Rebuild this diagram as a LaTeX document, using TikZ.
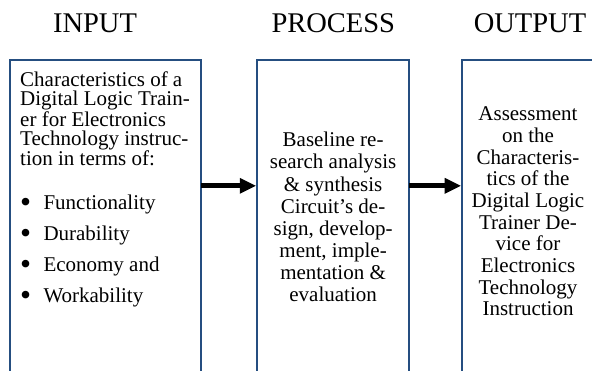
\documentclass[tikz,border=0pt]{standalone}
\usepackage{fontspec}
\setmainfont{Liberation Serif}
\usetikzlibrary{arrows.meta, positioning}
\definecolor{boxblue}{RGB}{37,78,128}
\newcommand{\listdot}{\makebox[23.3pt][l]{\raisebox{-2.3pt}{\scalebox{1.5}{\textbullet}}}}

\begin{document}
\begin{tikzpicture}[x=1pt, y=1pt,
    box/.style={draw=boxblue, line width=2pt, inner sep=0pt, outer sep=0pt,
        anchor=north west, minimum height=318pt},
    boxtext/.style={inner sep=0pt, align=center, font=\fontsize{21}{#1}\selectfont},
    heading/.style={font=\fontsize{28.5}{30}\selectfont, anchor=base, inner sep=0pt},
    flow/.style={line width=5pt, shorten >=1pt,
        -{Triangle[length=16pt, width=16pt, line width=0pt]}}]
    %% page
    \useasboundingbox (0,0) rectangle (592,371);
    \clip (0,0) rectangle (592,371);

    %% headings
    \node[heading] (hin) at (95,338.7) {INPUT};
    \node[heading] (hproc) at (333.3,338.7) {PROCESS};
    \node[heading] (hout) at (530,338.7) {OUTPUT};

    %% boxes
    \node[box, minimum width=191pt] (inbox) at (10,311) {};
    \node[box, minimum width=152.6pt] (procbox) at (256.8,311) {};
    \node[box, minimum width=132.6pt] (outbox) at (461.7,311) {};

    % text of the boxes
    \node[below right=11.5pt and 10pt of inbox.north west, inner sep=0pt, align=left,
          font=\fontsize{21}{19.3}\selectfont] (intext)
        {Characteristics of a\\ Digital Logic Train-\\ er for Electronics\\
         Technology instruc-\\ tion in terms of:\\[24.8pt]
         \listdot Functionality\\[11.7pt]
         \listdot Durability\\[11.7pt]
         \listdot Economy and\\[11.7pt]
         \listdot Workability};
    \node[boxtext=22.1] (proctext) at ([yshift=2pt]procbox.center)
        {Baseline re-\\ search analysis\\ \& synthesis\\ Circuit’s de-\\
         sign, develop-\\ ment, imple-\\ mentation \&\\ evaluation};
    \node[boxtext=21.7] (outtext) at ([yshift=7.5pt]outbox.center)
        {Assessment\\ on the\\ Characteris-\\ tics of the\\ Digital Logic\\
         Trainer De-\\ vice for\\ Electronics\\ Technology\\ Instruction};

    %% arrows
    \coordinate (arrowrow) at (0,185.2);
    \draw[flow] (inbox.east |- arrowrow) -- (procbox.west |- arrowrow);
    \draw[flow] (procbox.east |- arrowrow) -- (outbox.west |- arrowrow);
\end{tikzpicture}
\end{document}
